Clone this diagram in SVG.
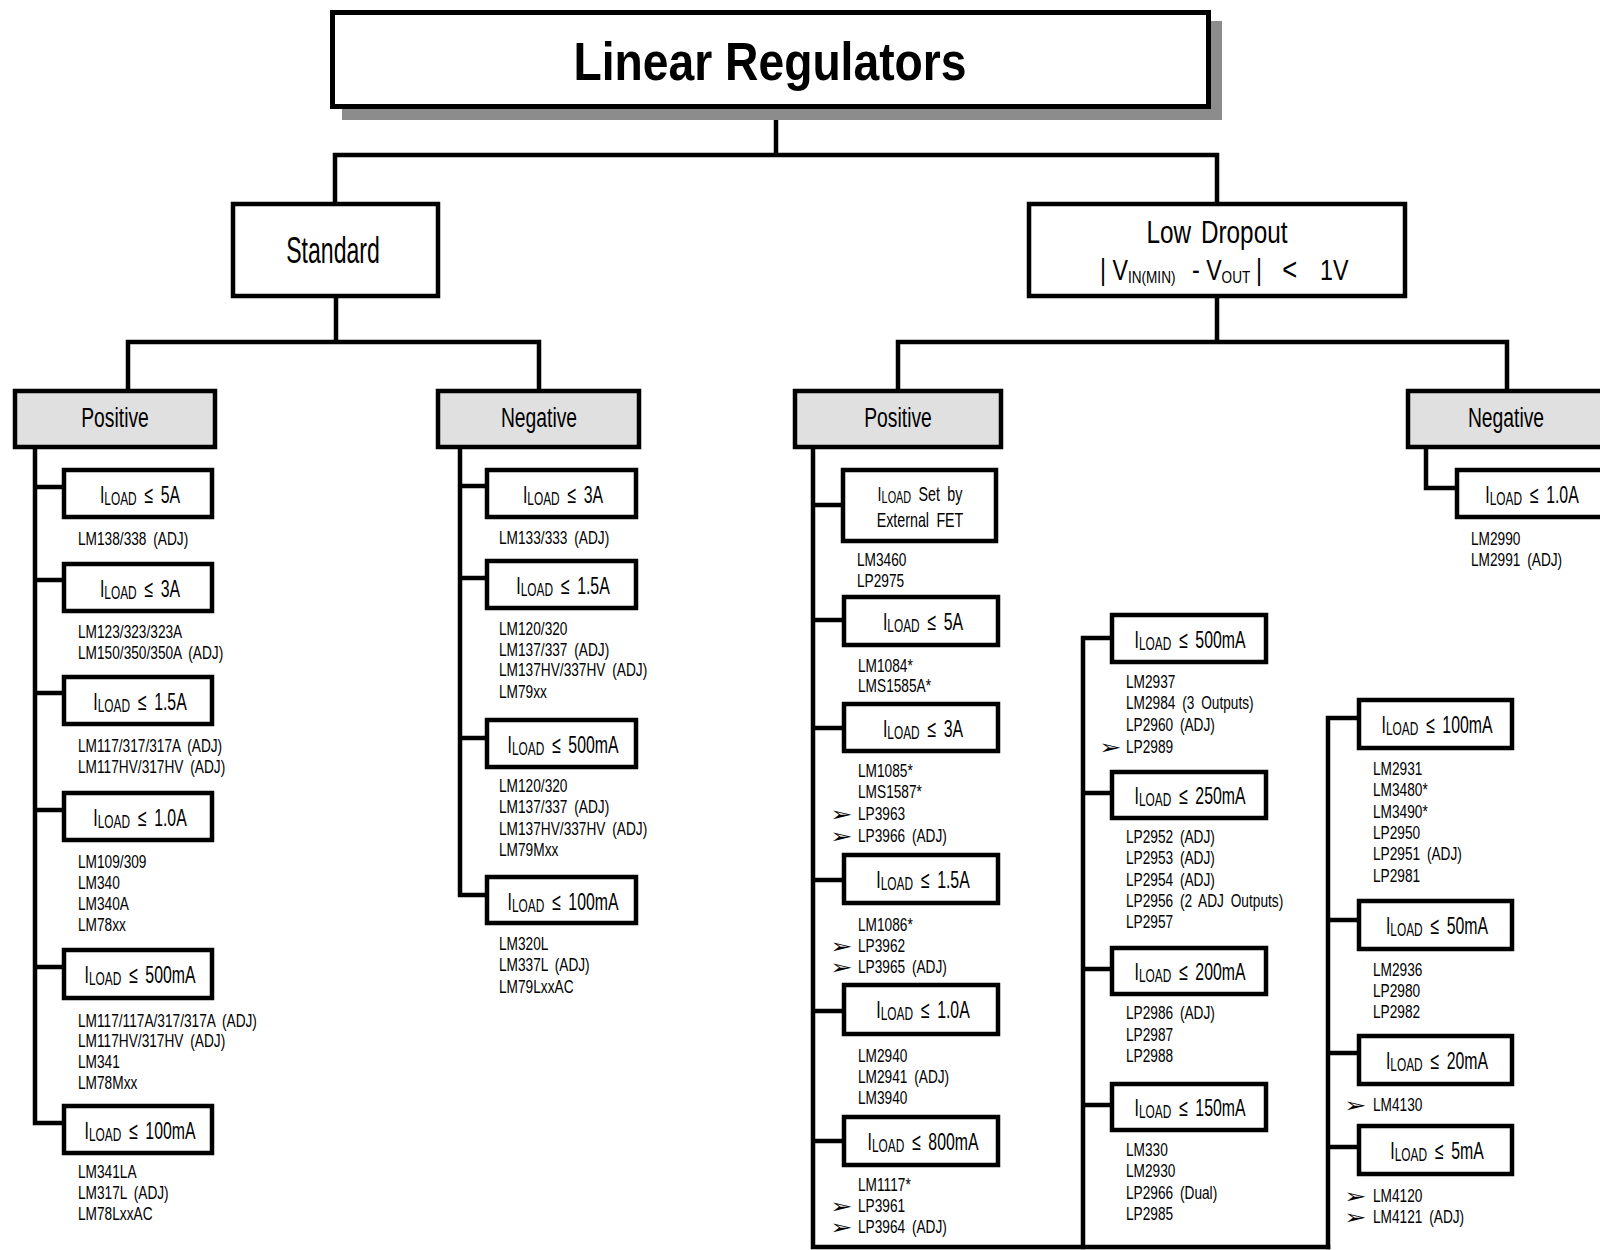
<svg xmlns="http://www.w3.org/2000/svg" width="1600" height="1250" viewBox="0 0 1600 1250">
<style>
.box{fill:#fff;stroke:#000;stroke-width:4.5}
.hdr{fill:#e0e0e0;stroke:#000;stroke-width:4.5}
.ln{fill:none;stroke:#000;stroke-width:4.5;stroke-linecap:square;stroke-linejoin:miter}
text{font-family:"Liberation Sans",Arial,sans-serif;fill:#000}
.pt{font-size:18.5px;word-spacing:4px}
.lb{font-size:24px;text-anchor:middle;word-spacing:5px}
.sub{font-size:18px}
.hd{font-size:28px;text-anchor:middle}
.ar{font-family:"DejaVu Sans",sans-serif;font-size:18px}
</style>
<rect width="1600" height="1250" fill="#fff"/>
<g id="connectors" class="ln">
<path d="M776,109V155M335,155H1217M335,155V202M1217,155V202"/>
<path d="M336,298V342M128,342H539M128,342V390M539,342V390"/>
<path d="M1217,298V342M898,342H1507M898,342V390M1507,342V390"/>
<path d="M35,449V1123H62M35,487H62M35,580H62M35,693H62M35,810H62M35,967H62"/>
<path d="M460,449V895H485M460,486H485M460,578H485M460,738H485"/>
<path d="M813,449V1247H1328M813,505H841M813,620H842M813,728H842M813,880H842M813,1011H842M813,1141H842"/>
<path d="M1083,1247V638H1110M1083,793H1110M1083,969H1110M1083,1105H1110"/>
<path d="M1328,1247V718H1357M1328,920H1357M1328,1053H1357M1328,1147H1357"/>
<path d="M1426,449V488H1455"/>
</g>

<g id="title">
<rect x="342" y="21" width="880" height="99" fill="#8c8c8c"/>
<rect x="332.5" y="12.5" width="876" height="94" fill="#fff" stroke="#000" stroke-width="5"/>
<text x="770" y="80" font-size="54" font-weight="bold" text-anchor="middle" textLength="393" lengthAdjust="spacingAndGlyphs">Linear Regulators</text>
</g>

<g id="standard">
<rect class="box" x="233" y="204" width="205" height="92"/>
<text transform="translate(333,263) scale(.64,1)" font-size="36" text-anchor="middle">Standard</text>
</g>

<g id="low-dropout">
<rect class="box" x="1029" y="204" width="376" height="92"/>
<text transform="translate(1217,243) scale(.76,1)" font-size="32" text-anchor="middle" word-spacing="4">Low Dropout</text>
<text transform="translate(1100,280) scale(.8,1)" font-size="29"><tspan x="0">| V</tspan><tspan font-size="17" dy="3">IN(MIN)</tspan><tspan x="107" dy="-3"> - V</tspan><tspan x="152" font-size="17" dy="3">OUT</tspan><tspan x="187" dy="-3"> |</tspan><tspan x="219" font-size="32"> &lt;</tspan><tspan x="267"> 1V</tspan></text>
</g>

<g id="std-positive">
<rect class="hdr" x="15" y="391" width="200" height="56"/>
<text class="hd" transform="translate(115,427) scale(.69,1)">Positive</text>
</g>
<g id="std-negative">
<rect class="hdr" x="438" y="391" width="201" height="56"/>
<text class="hd" transform="translate(539,427) scale(.69,1)">Negative</text>
</g>
<g id="ldo-positive">
<rect class="hdr" x="795" y="391" width="206" height="56"/>
<text class="hd" transform="translate(898,427) scale(.69,1)">Positive</text>
</g>
<g id="ldo-negative">
<rect class="hdr" x="1408" y="391" width="204" height="56"/>
<text class="hd" transform="translate(1506,427) scale(.69,1)">Negative</text>
</g>

<!-- Standard Positive -->
<g id="sp-5a">
<rect class="box" x="64" y="470" width="148" height="47"/>
<text class="lb" transform="translate(140,503) scale(.66,1)">I<tspan class="sub" dy="2">LOAD</tspan><tspan dy="-2"> ≤ 5A</tspan></text>
<g transform="translate(78,0) scale(.74,1)"><text class="pt" y="545">LM138/338 (ADJ)</text></g>
</g>
<g id="sp-3a">
<rect class="box" x="64" y="564" width="148" height="47"/>
<text class="lb" transform="translate(140,597) scale(.66,1)">I<tspan class="sub" dy="2">LOAD</tspan><tspan dy="-2"> ≤ 3A</tspan></text>
<g transform="translate(78,0) scale(.74,1)"><text class="pt" y="638">LM123/323/323A</text><text class="pt" y="659">LM150/350/350A (ADJ)</text></g>
</g>
<g id="sp-1-5a">
<rect class="box" x="64" y="677" width="148" height="47"/>
<text class="lb" transform="translate(140,710) scale(.66,1)">I<tspan class="sub" dy="2">LOAD</tspan><tspan dy="-2"> ≤ 1.5A</tspan></text>
<g transform="translate(78,0) scale(.74,1)"><text class="pt" y="752">LM117/317/317A (ADJ)</text><text class="pt" y="773">LM117HV/317HV (ADJ)</text></g>
</g>
<g id="sp-1-0a">
<rect class="box" x="64" y="793" width="148" height="47"/>
<text class="lb" transform="translate(140,826) scale(.66,1)">I<tspan class="sub" dy="2">LOAD</tspan><tspan dy="-2"> ≤ 1.0A</tspan></text>
<g transform="translate(78,0) scale(.74,1)"><text class="pt" y="868">LM109/309</text><text class="pt" y="889">LM340</text><text class="pt" y="910">LM340A</text><text class="pt" y="931">LM78xx</text></g>
</g>
<g id="sp-500ma">
<rect class="box" x="64" y="950" width="148" height="48"/>
<text class="lb" transform="translate(140,983) scale(.66,1)">I<tspan class="sub" dy="2">LOAD</tspan><tspan dy="-2"> ≤ 500mA</tspan></text>
<g transform="translate(78,0) scale(.74,1)"><text class="pt" y="1027">LM117/117A/317/317A (ADJ)</text><text class="pt" y="1047">LM117HV/317HV (ADJ)</text><text class="pt" y="1068">LM341</text><text class="pt" y="1089">LM78Mxx</text></g>
</g>
<g id="sp-100ma">
<rect class="box" x="64" y="1106" width="148" height="47"/>
<text class="lb" transform="translate(140,1139) scale(.66,1)">I<tspan class="sub" dy="2">LOAD</tspan><tspan dy="-2"> ≤ 100mA</tspan></text>
<g transform="translate(78,0) scale(.74,1)"><text class="pt" y="1178">LM341LA</text><text class="pt" y="1199">LM317L (ADJ)</text><text class="pt" y="1220">LM78LxxAC</text></g>
</g>

<!-- Standard Negative -->
<g id="sn-3a">
<rect class="box" x="487" y="470" width="149" height="47"/>
<text class="lb" transform="translate(563,503) scale(.66,1)">I<tspan class="sub" dy="2">LOAD</tspan><tspan dy="-2"> ≤ 3A</tspan></text>
<g transform="translate(499,0) scale(.74,1)"><text class="pt" y="544">LM133/333 (ADJ)</text></g>
</g>
<g id="sn-1-5a">
<rect class="box" x="487" y="561" width="149" height="47"/>
<text class="lb" transform="translate(563,594) scale(.66,1)">I<tspan class="sub" dy="2">LOAD</tspan><tspan dy="-2"> ≤ 1.5A</tspan></text>
<g transform="translate(499,0) scale(.74,1)"><text class="pt" y="635">LM120/320</text><text class="pt" y="656">LM137/337 (ADJ)</text><text class="pt" y="676">LM137HV/337HV (ADJ)</text><text class="pt" y="698">LM79xx</text></g>
</g>
<g id="sn-500ma">
<rect class="box" x="487" y="720" width="149" height="47"/>
<text class="lb" transform="translate(563,753) scale(.66,1)">I<tspan class="sub" dy="2">LOAD</tspan><tspan dy="-2"> ≤ 500mA</tspan></text>
<g transform="translate(499,0) scale(.74,1)"><text class="pt" y="792">LM120/320</text><text class="pt" y="813">LM137/337 (ADJ)</text><text class="pt" y="835">LM137HV/337HV (ADJ)</text><text class="pt" y="856">LM79Mxx</text></g>
</g>
<g id="sn-100ma">
<rect class="box" x="487" y="877" width="149" height="46"/>
<text class="lb" transform="translate(563,910) scale(.66,1)">I<tspan class="sub" dy="2">LOAD</tspan><tspan dy="-2"> ≤ 100mA</tspan></text>
<g transform="translate(499,0) scale(.74,1)"><text class="pt" y="950">LM320L</text><text class="pt" y="971">LM337L (ADJ)</text><text class="pt" y="993">LM79LxxAC</text></g>
</g>

<!-- LDO Positive -->
<g id="lp-fet">
<rect class="box" x="843" y="470" width="153" height="71"/>
<text transform="translate(920,501) scale(.68,1)" font-size="21" text-anchor="middle" word-spacing="5">I<tspan font-size="16" dy="2">LOAD</tspan><tspan dy="-2"> Set by</tspan></text>
<text transform="translate(920,527) scale(.68,1)" font-size="21" text-anchor="middle" word-spacing="5">External FET</text>
<g transform="translate(857,0) scale(.74,1)"><text class="pt" y="566">LM3460</text><text class="pt" y="587">LP2975</text></g>
</g>
<g id="lp-5a">
<rect class="box" x="844" y="597" width="154" height="48"/>
<text class="lb" transform="translate(923,630) scale(.66,1)">I<tspan class="sub" dy="2">LOAD</tspan><tspan dy="-2"> ≤ 5A</tspan></text>
<g transform="translate(858,0) scale(.74,1)"><text class="pt" y="672">LM1084*</text><text class="pt" y="692">LMS1585A*</text></g>
</g>
<g id="lp-3a">
<rect class="box" x="844" y="704" width="154" height="47"/>
<text class="lb" transform="translate(923,737) scale(.66,1)">I<tspan class="sub" dy="2">LOAD</tspan><tspan dy="-2"> ≤ 3A</tspan></text>
<g transform="translate(858,0) scale(.74,1)"><text class="pt" y="777">LM1085*</text><text class="pt" y="798">LMS1587*</text><text class="pt" y="820">LP3963</text><text class="pt" y="842">LP3966 (ADJ)</text></g>
<text class="ar" transform="translate(830,821) scale(1.5,1.1)">➢</text><text class="ar" transform="translate(830,843) scale(1.5,1.1)">➢</text>
</g>
<g id="lp-1-5a">
<rect class="box" x="844" y="855" width="154" height="48"/>
<text class="lb" transform="translate(923,888) scale(.66,1)">I<tspan class="sub" dy="2">LOAD</tspan><tspan dy="-2"> ≤ 1.5A</tspan></text>
<g transform="translate(858,0) scale(.74,1)"><text class="pt" y="931">LM1086*</text><text class="pt" y="952">LP3962</text><text class="pt" y="973">LP3965 (ADJ)</text></g>
<text class="ar" transform="translate(830,953) scale(1.5,1.1)">➢</text><text class="ar" transform="translate(830,974) scale(1.5,1.1)">➢</text>
</g>
<g id="lp-1-0a">
<rect class="box" x="844" y="985" width="154" height="49"/>
<text class="lb" transform="translate(923,1018) scale(.66,1)">I<tspan class="sub" dy="2">LOAD</tspan><tspan dy="-2"> ≤ 1.0A</tspan></text>
<g transform="translate(858,0) scale(.74,1)"><text class="pt" y="1062">LM2940</text><text class="pt" y="1083">LM2941 (ADJ)</text><text class="pt" y="1104">LM3940</text></g>
</g>
<g id="lp-800ma">
<rect class="box" x="844" y="1117" width="154" height="48"/>
<text class="lb" transform="translate(923,1150) scale(.66,1)">I<tspan class="sub" dy="2">LOAD</tspan><tspan dy="-2"> ≤ 800mA</tspan></text>
<g transform="translate(858,0) scale(.74,1)"><text class="pt" y="1191">LM1117*</text><text class="pt" y="1212">LP3961</text><text class="pt" y="1233">LP3964 (ADJ)</text></g>
<text class="ar" transform="translate(830,1213) scale(1.5,1.1)">➢</text><text class="ar" transform="translate(830,1234) scale(1.5,1.1)">➢</text>
</g>

<!-- LDO Positive middle column -->
<g id="lm-500ma">
<rect class="box" x="1112" y="615" width="154" height="47"/>
<text class="lb" transform="translate(1190,648) scale(.66,1)">I<tspan class="sub" dy="2">LOAD</tspan><tspan dy="-2"> ≤ 500mA</tspan></text>
<g transform="translate(1126,0) scale(.74,1)"><text class="pt" y="688">LM2937</text><text class="pt" y="709">LM2984 (3 Outputs)</text><text class="pt" y="731">LP2960 (ADJ)</text><text class="pt" y="753">LP2989</text></g>
<text class="ar" transform="translate(1099,754) scale(1.5,1.1)">➢</text>
</g>
<g id="lm-250ma">
<rect class="box" x="1112" y="772" width="154" height="46"/>
<text class="lb" transform="translate(1190,804) scale(.66,1)">I<tspan class="sub" dy="2">LOAD</tspan><tspan dy="-2"> ≤ 250mA</tspan></text>
<g transform="translate(1126,0) scale(.74,1)"><text class="pt" y="843">LP2952 (ADJ)</text><text class="pt" y="864">LP2953 (ADJ)</text><text class="pt" y="886">LP2954 (ADJ)</text><text class="pt" y="907">LP2956 (2 ADJ Outputs)</text><text class="pt" y="928">LP2957</text></g>
</g>
<g id="lm-200ma">
<rect class="box" x="1112" y="948" width="154" height="46"/>
<text class="lb" transform="translate(1190,980) scale(.66,1)">I<tspan class="sub" dy="2">LOAD</tspan><tspan dy="-2"> ≤ 200mA</tspan></text>
<g transform="translate(1126,0) scale(.74,1)"><text class="pt" y="1019">LP2986 (ADJ)</text><text class="pt" y="1041">LP2987</text><text class="pt" y="1062">LP2988</text></g>
</g>
<g id="lm-150ma">
<rect class="box" x="1112" y="1084" width="154" height="46"/>
<text class="lb" transform="translate(1190,1116) scale(.66,1)">I<tspan class="sub" dy="2">LOAD</tspan><tspan dy="-2"> ≤ 150mA</tspan></text>
<g transform="translate(1126,0) scale(.74,1)"><text class="pt" y="1156">LM330</text><text class="pt" y="1177">LM2930</text><text class="pt" y="1199">LP2966 (Dual)</text><text class="pt" y="1220">LP2985</text></g>
</g>

<!-- LDO Positive right column -->
<g id="lr-100ma">
<rect class="box" x="1359" y="700" width="153" height="48"/>
<text class="lb" transform="translate(1437,733) scale(.66,1)">I<tspan class="sub" dy="2">LOAD</tspan><tspan dy="-2"> ≤ 100mA</tspan></text>
<g transform="translate(1373,0) scale(.74,1)"><text class="pt" y="775">LM2931</text><text class="pt" y="796">LM3480*</text><text class="pt" y="818">LM3490*</text><text class="pt" y="839">LP2950</text><text class="pt" y="860">LP2951 (ADJ)</text><text class="pt" y="882">LP2981</text></g>
</g>
<g id="lr-50ma">
<rect class="box" x="1359" y="901" width="153" height="48"/>
<text class="lb" transform="translate(1437,934) scale(.66,1)">I<tspan class="sub" dy="2">LOAD</tspan><tspan dy="-2"> ≤ 50mA</tspan></text>
<g transform="translate(1373,0) scale(.74,1)"><text class="pt" y="976">LM2936</text><text class="pt" y="997">LP2980</text><text class="pt" y="1018">LP2982</text></g>
</g>
<g id="lr-20ma">
<rect class="box" x="1359" y="1036" width="153" height="48"/>
<text class="lb" transform="translate(1437,1069) scale(.66,1)">I<tspan class="sub" dy="2">LOAD</tspan><tspan dy="-2"> ≤ 20mA</tspan></text>
<g transform="translate(1373,0) scale(.74,1)"><text class="pt" y="1111">LM4130</text></g>
<text class="ar" transform="translate(1344,1112) scale(1.5,1.1)">➢</text>
</g>
<g id="lr-5ma">
<rect class="box" x="1359" y="1126" width="153" height="48"/>
<text class="lb" transform="translate(1437,1159) scale(.66,1)">I<tspan class="sub" dy="2">LOAD</tspan><tspan dy="-2"> ≤ 5mA</tspan></text>
<g transform="translate(1373,0) scale(.74,1)"><text class="pt" y="1202">LM4120</text><text class="pt" y="1223">LM4121 (ADJ)</text></g>
<text class="ar" transform="translate(1344,1203) scale(1.5,1.1)">➢</text><text class="ar" transform="translate(1344,1224) scale(1.5,1.1)">➢</text>
</g>

<!-- LDO Negative -->
<g id="ln-1-0a">
<rect class="box" x="1457" y="470" width="152" height="47"/>
<text class="lb" transform="translate(1532,503) scale(.66,1)">I<tspan class="sub" dy="2">LOAD</tspan><tspan dy="-2"> ≤ 1.0A</tspan></text>
<g transform="translate(1471,0) scale(.74,1)"><text class="pt" y="545">LM2990</text><text class="pt" y="566">LM2991 (ADJ)</text></g>
</g>
</svg>
